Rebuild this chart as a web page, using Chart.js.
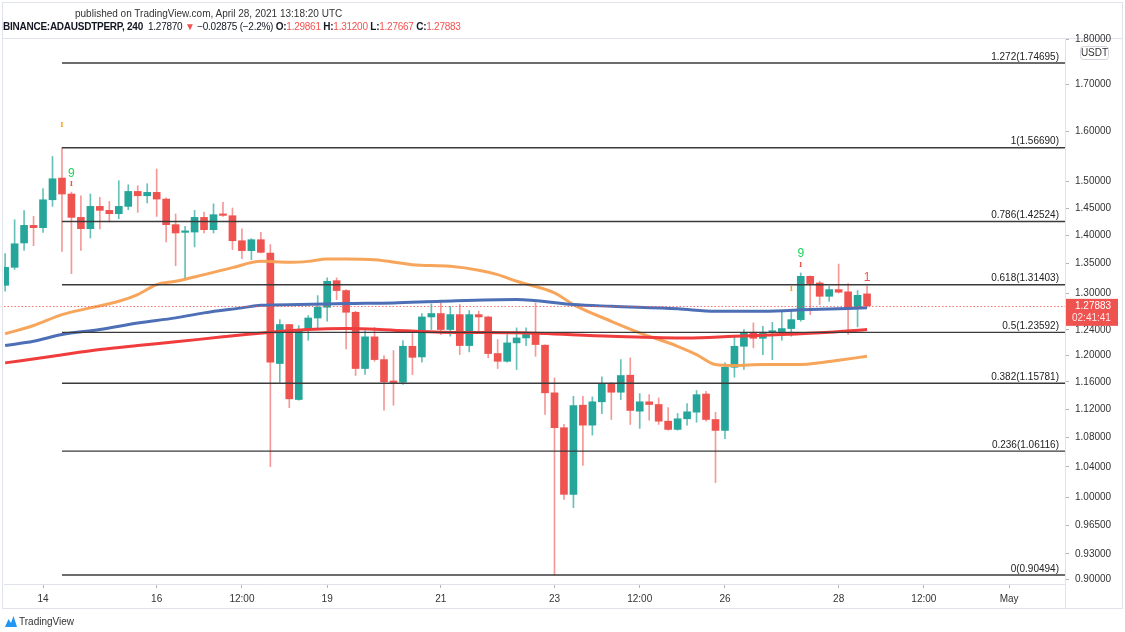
<!DOCTYPE html>
<html lang="en">
<head>
<meta charset="UTF-8" />
<title>ADAUSDTPERP 240</title>
<script src="https://cdn.jsdelivr.net/npm/chart.js"></script>
<style>
  html, body { margin: 0; padding: 0; background: #fff; }
  body { width: 1125px; height: 632px; position: relative; overflow: hidden;
         font-family: "Liberation Sans", Arial, sans-serif; }
  #graf { position: absolute; left: 0; top: 0; }
  .head1 { position: absolute; left: 75px; top: 8px; font-size: 10px; color: #333; white-space: nowrap; }
  .head2 { position: absolute; left: 3px; top: 21px; font-size: 10px; color: #131722; white-space: nowrap; letter-spacing: -0.25px; }
  .b { font-weight: bold; }
  .r { color: #ef5350; }
  .foot { position: absolute; left: 5px; top: 616px; font-size: 10px; color: #333; display: flex; align-items: center; gap: 2px; }
</style>
</head>
<body>
  <canvas id="graf" width="1125" height="632"></canvas>
  <div class="head1">published on TradingView.com, April 28, 2021 13:18:20 UTC</div>
  <div class="head2"><span class="b">BINANCE:ADAUSDTPERP, 240</span>&nbsp; 1.27870 <span class="r">▼</span> −0.02875 (−2.2%) <span class="b">O:</span><span class="r">1.29861</span> <span class="b">H:</span><span class="r">1.31200</span> <span class="b">L:</span><span class="r">1.27667</span> <span class="b">C:</span><span class="r">1.27883</span></div>
  <div class="foot">
    <svg width="12" height="11" viewBox="0 0 12 11"><path d="M0 11 L3.5 3 L6 7 L8.5 0 L12 11 Z" fill="#2196f3"/></svg>
    <span>TradingView</span>
  </div>

<script>
// velas de 4h, indice 0 = 13 abr 08:00
const opens  = [1.3130,1.3437,1.3864,1.4181,1.4139,1.4655,1.5069,1.4764,1.4327,1.4121,
                1.4531,1.4457,1.4395,1.4531,1.4813,1.4731,1.4795,1.4668,1.4194,1.4054,
                1.4060,1.4327,1.4103,1.4390,1.4358,1.3904,1.3728,1.3922,1.3687,1.1875,
                1.2485,1.1338,1.2405,1.2590,1.2765,1.3209,1.3042,1.2683,1.1799,1.2289,
                1.1935,1.1599,1.1594,1.2141,1.1976,1.2607,1.2662,1.2405,1.2645,1.2152,
                1.2645,1.2607,1.2028,1.1909,1.2194,1.2272,1.2326,1.2158,1.1436,1.0935,
                1.0038,1.1256,1.0971,1.1305,1.1570,1.1445,1.1698,1.1170,1.1305,1.1266,
                1.1027,1.0911,1.1061,1.1156,1.1419,1.1051,1.0897,1.1818,1.2141,1.2362,
                1.2266,1.2362,1.2373,1.2420,1.2564,1.3282,1.3170,1.2946,1.3058,1.3020,
                1.2744,1.29861];
const highs  = [1.3675,1.4284,1.4451,1.4345,1.4865,1.5493,1.5669,1.4800,1.4731,1.4764,
                1.4699,1.4624,1.5017,1.4941,1.4922,1.4960,1.5245,1.4690,1.4390,1.4163,
                1.4457,1.4427,1.4579,1.4605,1.4501,1.4116,1.3940,1.4054,1.3834,1.2564,
                1.2490,1.2469,1.2628,1.2958,1.3256,1.3256,1.3060,1.2700,1.2390,1.2441,
                1.1996,1.2074,1.2230,1.2342,1.2662,1.2820,1.2853,1.2781,1.2809,1.2711,
                1.2700,1.2620,1.2246,1.2326,1.2431,1.2431,1.2836,1.2165,1.1658,1.0981,
                1.1386,1.1386,1.1377,1.1673,1.1590,1.1935,1.1961,1.1426,1.1410,1.1362,
                1.1223,1.1137,1.1280,1.1470,1.1460,1.1155,1.1885,1.2299,1.2405,1.2510,
                1.2456,1.2520,1.2683,1.2700,1.3340,1.3290,1.3198,1.3114,1.3493,1.3159,
                1.3042,1.31200];
const lows   = [1.3030,1.3400,1.3733,1.3816,1.4054,1.4531,1.3716,1.3329,1.3733,1.3953,
                1.4116,1.4242,1.4303,1.4469,1.4420,1.4594,1.4345,1.3881,1.3466,1.3226,
                1.3793,1.4043,1.4043,1.4345,1.3746,1.3587,1.3569,1.3690,1.0401,1.1593,
                1.1219,1.1328,1.2235,1.2431,1.2537,1.2891,1.2101,1.1693,1.1708,1.1909,
                1.1184,1.1256,1.1559,1.1708,1.1894,1.2405,1.2326,1.2299,1.2012,1.2054,
                1.2378,1.1961,1.1799,1.1894,1.1784,1.2152,1.1986,1.1122,0.90494,0.9973,
                0.9868,1.0418,1.0831,1.1133,1.1051,1.1338,1.0981,1.0925,1.1041,1.0981,
                1.0901,1.0900,1.0971,1.1012,1.1027,1.0190,1.0781,1.1668,1.1784,1.2116,
                1.2012,1.1935,1.2235,1.2299,1.2537,1.2645,1.2809,1.2863,1.3000,1.2326,
                1.2447,1.27667];
const closes = [1.3437,1.3850,1.4181,1.4139,1.4655,1.5056,1.4764,1.4327,1.4121,1.4531,
                1.4457,1.4395,1.4531,1.4813,1.4731,1.4795,1.4668,1.4194,1.4043,1.4072,
                1.4327,1.4103,1.4377,1.4364,1.3904,1.3728,1.3922,1.3698,1.1894,1.2485,
                1.1348,1.2405,1.2590,1.2765,1.3198,1.3042,1.2683,1.1799,1.2289,1.1935,
                1.1599,1.1589,1.2141,1.1970,1.2607,1.2662,1.2405,1.2645,1.2152,1.2645,
                1.2607,1.2028,1.1909,1.2194,1.2272,1.2326,1.2168,1.1436,1.0935,1.0038,
                1.1252,1.0971,1.1305,1.1570,1.1445,1.1693,1.1180,1.1305,1.1266,1.1027,
                1.0911,1.1061,1.1161,1.1409,1.1051,1.0897,1.1818,1.2141,1.2362,1.2266,
                1.2362,1.2373,1.2420,1.2564,1.3282,1.3159,1.2946,1.3058,1.3014,1.2744,
                1.2962,1.27883];

// medias moveis (lidas a cada poucas velas)
const emaOrangeIdx = [0,3,6,9,12,14,16,18,21,24,27,30,32,34,36,39,43,47,50,52,54,58,60,64,67,71,73,75,77,80,84,86,88,91];
const emaOrange    = [1.2337,1.2469,1.2645,1.2755,1.2863,1.2975,1.3142,1.3198,1.3312,1.3432,1.3540,1.3523,1.3540,1.3581,1.3581,1.3569,1.3483,1.3454,1.3387,1.3312,1.3198,1.3004,1.2809,1.2537,1.2352,1.2141,1.2012,1.1860,1.1845,1.1860,1.1860,1.1885,1.1924,1.1986];
const emaBlueIdx   = [0,3,6,10,14,18,21,25,27,31,36,41,46,54,60,64,71,75,80,85,91];
const emaBlue      = [1.2153,1.2220,1.2326,1.2405,1.2510,1.2592,1.2673,1.2755,1.2797,1.2809,1.2825,1.2836,1.2863,1.2891,1.2809,1.2781,1.2739,1.2700,1.2700,1.2727,1.2755];
const emaRedIdx    = [0,5,10,14,18,23,28,32,36,41,46,54,64,72,77,82,87,91];
const emaRed       = [1.1885,1.1986,1.2090,1.2152,1.2210,1.2289,1.2362,1.2405,1.2420,1.2394,1.2362,1.2352,1.2299,1.2272,1.2299,1.2326,1.2362,1.2405];

// fibonacci
const fibRatios = ['1.272','1','0.786','0.618','0.5','0.382','0.236','0'];
const fibLevels = [1.74695,1.56690,1.42524,1.31403,1.23592,1.15781,1.06116,0.90494];
const fibStart = 6;

const lastPrice = 1.27883;
const countdown = '02:41:41';

// marcadores TD
const markIdx   = [6, 7, 7, 83, 84, 84, 91];
const markPrice = [1.6137, 1.5153, 1.4950, 1.3067, 1.3666, 1.3475, 1.3260];
const markText  = ['I','9','I','I','9','I','1'];
const markColor = ['#f7a21b','#1fd15a','#ef5350','#f7a21b','#1fd15a','#ef5350','#ef5350'];

// eixos
const xTickIdx    = [4,16,25,34,46,58,67,76,88,97,106];
const xTickLabels = ['14','16','12:00','19','21','23','12:00','26','28','12:00','May'];
const yTicks = [0.9,0.93,0.965,1.0,1.04,1.08,1.12,1.16,1.2,1.24,1.3,1.35,1.4,1.45,1.5,1.6,1.7,1.8];
const xMin = -0.12, xMax = 111.9;
const yMin = 0.8946, yMax = 1.804;

const UP = '#26a69a', DOWN = '#ef5350';
const isUp = closes.map((c, i) => c >= opens[i]);

const bodies = opens.map((o, i) => ({ x: i, y: [o, closes[i]] }));
const wicks  = lows.map((l, i) => ({ x: i, y: [l, highs[i]] }));

function serie(idx, vals) { return idx.map((x, k) => ({ x: x, y: vals[k] })); }

const fibSets = fibLevels.map(v => ({
  type: 'line', data: [{ x: fibStart, y: v }, { x: xMax, y: v }],
  borderColor: '#3b3b3b', borderWidth: 1.4, pointRadius: 0, order: 0
}));

const overlay = {
  id: 'overlay',
  beforeDraw(chart) {
    const c = chart.ctx, a = chart.chartArea;
    c.save();
    c.fillStyle = '#fff';
    c.fillRect(0, 0, chart.width, chart.height);
    c.strokeStyle = '#e0e3eb';
    c.lineWidth = 1;
    c.strokeRect(2.5, 2.5, 1120, 606);
    c.beginPath();
    c.moveTo(3, a.top + 0.5); c.lineTo(1122, a.top + 0.5);
    c.moveTo(a.right + 0.5, a.top); c.lineTo(a.right + 0.5, 608);
    c.stroke();
    c.restore();
  },
  afterDatasetsDraw(chart) {
    const c = chart.ctx, a = chart.chartArea;
    const xs = chart.scales.x, ys = chart.scales.y;
    c.save();
    c.font = '10px "Liberation Sans", Arial, sans-serif';
    c.fillStyle = '#222';
    c.textAlign = 'right';
    c.textBaseline = 'bottom';
    fibLevels.forEach((v, k) => {
      c.fillText(fibRatios[k] + '(' + v.toFixed(5) + ')', a.right - 6, ys.getPixelForValue(v) - 1);
    });
    c.textAlign = 'center';
    c.textBaseline = 'middle';
    markIdx.forEach((ix, k) => {
      const big = markText[k] !== 'I';
      c.font = big ? '12px "Liberation Sans", Arial, sans-serif' : 'bold 7px "DejaVu Serif", serif';
      c.fillStyle = markColor[k];
      c.fillText(markText[k], xs.getPixelForValue(ix), ys.getPixelForValue(markPrice[k]));
    });
    // linha pontilhada do preco atual
    const py = Math.round(ys.getPixelForValue(lastPrice)) + 0.5;
    c.strokeStyle = 'rgba(239,83,80,0.8)';
    c.setLineDash([1.5, 2]);
    c.beginPath(); c.moveTo(a.left, py); c.lineTo(a.right, py); c.stroke();
    c.restore();
  },
  afterDraw(chart) {
    const c = chart.ctx, a = chart.chartArea, ys = chart.scales.y;
    const py = ys.getPixelForValue(lastPrice);
    c.save();
    c.fillStyle = DOWN;
    c.fillRect(a.right + 1, py - 7, 52, 27);
    c.fillStyle = '#fff';
    c.font = '10px "Liberation Sans", Arial, sans-serif';
    c.textAlign = 'left';
    c.textBaseline = 'middle';
    c.fillText(lastPrice.toFixed(5), a.right + 10, py + 0.5);
    c.fillStyle = 'rgba(255,255,255,0.85)';
    c.fillText(countdown, a.right + 7, py + 12.5);
    // etiqueta USDT
    c.strokeStyle = '#d1d4dc';
    c.fillStyle = '#fff';
    c.beginPath();
    c.roundRect(a.right + 15.5, 46.5, 28, 13, 3);
    c.fill(); c.stroke();
    c.fillStyle = '#333';
    c.textAlign = 'center';
    c.fillText('USDT', a.right + 29.5, 53.5);
    c.restore();
  }
};

new Chart(document.getElementById('graf'), {
  type: 'bar',
  data: {
    datasets: [
      { data: wicks, backgroundColor: isUp.map(u => u ? 'rgba(38,166,154,0.7)' : 'rgba(239,83,80,0.6)'),
        barThickness: 1, grouped: false, order: 6 },
      { data: bodies, backgroundColor: isUp.map(u => u ? UP : DOWN),
        barThickness: 7, minBarLength: 1.5, grouped: false, order: 5 },
      { type: 'line', data: serie(emaOrangeIdx, emaOrange), borderColor: 'rgba(247,160,82,0.95)',
        borderWidth: 3, pointRadius: 0, cubicInterpolationMode: 'monotone', order: 3 },
      { type: 'line', data: serie(emaBlueIdx, emaBlue), borderColor: '#4d6fb6',
        borderWidth: 3, pointRadius: 0, cubicInterpolationMode: 'monotone', order: 2 },
      { type: 'line', data: serie(emaRedIdx, emaRed), borderColor: '#f03c3c',
        borderWidth: 3, pointRadius: 0, cubicInterpolationMode: 'monotone', order: 1 },
      ...fibSets
    ]
  },
  options: {
    responsive: false,
    animation: false,
    devicePixelRatio: 1,
    layout: { padding: { top: 38, left: 4, right: 0, bottom: 0 } },
    plugins: { legend: { display: false }, tooltip: { enabled: false } },
    scales: {
      x: {
        type: 'linear', min: xMin, max: xMax, offset: false,
        afterFit: s => { s.height = 48; },
        afterBuildTicks: s => { s.ticks = xTickIdx.map(v => ({ value: v })); },
        grid: { drawOnChartArea: false, offset: false, tickLength: 4, color: '#b2b5be' },
        border: { color: '#e0e3eb' },
        ticks: {
          autoSkip: false, maxRotation: 0, padding: 5, color: '#333',
          font: { size: 10, family: '"Liberation Sans", Arial, sans-serif' },
          callback: v => xTickLabels[xTickIdx.indexOf(v)]
        }
      },
      y: {
        type: 'logarithmic', position: 'right', min: yMin, max: yMax,
        afterFit: s => { s.width = 60; },
        afterBuildTicks: s => { s.ticks = yTicks.map(v => ({ value: v })); },
        grid: { drawOnChartArea: false, tickLength: 4, color: '#b2b5be' },
        border: { color: '#e0e3eb' },
        ticks: {
          padding: 6, color: '#333',
          font: { size: 10, family: '"Liberation Sans", Arial, sans-serif' },
          callback: v => Number(v).toFixed(5)
        }
      }
    }
  },
  plugins: [overlay]
});
</script>
</body>
</html>
